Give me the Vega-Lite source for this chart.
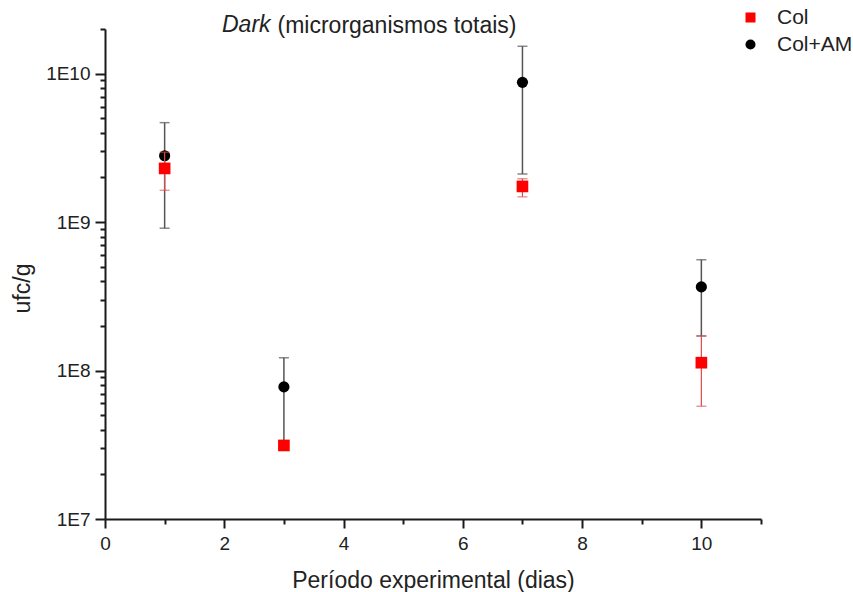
{
  "$schema": "https://vega.github.io/schema/vega-lite/v6.json",
  "width": 656,
  "height": 490,
  "autosize": "none",
  "padding": {"left": 105, "top": 29, "right": 92, "bottom": 73},
  "background": "white",
  "config": {
    "view": {"stroke": null},
    "font": "Liberation Sans",
    "axis": {"labelColor": "#222", "titleColor": "#222", "titleFontWeight": "normal", "grid": false}
  },
  "title": {"text": "Dark", "fontStyle": "italic", "fontWeight": "normal", "fontSize": 23, "color": "#222", "anchor": "start", "frame": "group", "dx": 117, "dy": 52, "baseline": "alphabetic"},
  "data": {"values": [
    {"day": 1, "series": "Col", "value": 2.3e9, "lo": 1.64e9, "hi": 2.96e9},
    {"day": 3, "series": "Col", "value": 3.13e7, "lo": 2.95e7, "hi": 3.3e7},
    {"day": 7, "series": "Col", "value": 1.74e9, "lo": 1.48e9, "hi": 1.96e9},
    {"day": 10, "series": "Col", "value": 1.13e8, "lo": 5.75e7, "hi": 1.71e8},
    {"day": 1, "series": "Col+AM", "value": 2.8e9, "lo": 9.1e8, "hi": 4.68e9},
    {"day": 3, "series": "Col+AM", "value": 7.76e7, "lo": 3.3e7, "hi": 1.22e8},
    {"day": 7, "series": "Col+AM", "value": 8.74e9, "lo": 2.11e9, "hi": 1.53e10},
    {"day": 10, "series": "Col+AM", "value": 3.66e8, "lo": 1.71e8, "hi": 5.58e8}
  ]},
  "resolve": {"axis": {"x": "independent"}},
  "layer": [
    {
      "transform": [{"filter": "datum.series == 'Col+AM'"}],
      "mark": {"type": "rule", "color": "#555555", "strokeWidth": 1.5},
      "encoding": {
        "x": {"field": "day", "type": "quantitative", "scale": {"domain": [0, 11], "nice": false, "zero": false},
          "axis": {"orient": "bottom", "values": [0,1,2,3,4,5,6,7,8,9,10,11],
            "labelExpr": "(datum.value % 2 == 0 && datum.value < 11) ? datum.label : ''",
            "tickSize": {"condition": {"test": "datum.value % 2 == 0 && datum.value < 11", "value": 9}, "value": 5},
            "labelFontSize": 19, "labelPadding": 6, "labelFlush": false, "labelOverlap": false,
            "domainColor": "#1a1a1a", "domainWidth": 2, "tickColor": "#1a1a1a", "tickWidth": 2,
            "title": "Período experimental (dias)", "titleFontSize": 23, "titleX": 328, "titleY": 68, "titleBaseline": "alphabetic", "titleAlign": "center"}},
        "y": {"field": "lo", "type": "quantitative", "scale": {"type": "log", "domain": [1e7, 2e10], "nice": false},
          "axis": {"values": [1e7,2e7,3e7,4e7,5e7,6e7,7e7,8e7,9e7,1e8,2e8,3e8,4e8,5e8,6e8,7e8,8e8,9e8,1e9,2e9,3e9,4e9,5e9,6e9,7e9,8e9,9e9,1e10,2e10],
            "labelExpr": "abs(log(datum.value)/LN10 - round(log(datum.value)/LN10)) < 0.000001 ? '1E' + round(log(datum.value)/LN10) : ''",
            "tickSize": {"condition": {"test": "abs(log(datum.value)/LN10 - round(log(datum.value)/LN10)) < 0.000001", "value": 10}, "value": 5},
            "labelFontSize": 19, "labelPadding": 5, "labelFlush": false, "labelOverlap": false,
            "domainColor": "#1a1a1a", "domainWidth": 2, "tickColor": "#1a1a1a", "tickWidth": 2,
            "title": "ufc/g", "titleFontSize": 23, "titleX": -76, "titleY": 259, "titleBaseline": "alphabetic", "titleAlign": "center", "titleAngle": -90}},
        "y2": {"field": "hi"}
      }
    },
    {
      "transform": [{"filter": "datum.series == 'Col+AM'"}],
      "mark": {"type": "tick", "orient": "horizontal", "color": "#555555", "size": 10, "thickness": 1.5},
      "encoding": {
        "x": {"field": "day", "type": "quantitative", "scale": {"domain": [0, 11], "nice": false, "zero": false}, "axis": null},
        "y": {"field": "hi", "type": "quantitative", "scale": {"type": "log", "domain": [1e7, 2e10], "nice": false}}
      }
    },
    {
      "transform": [{"filter": "datum.series == 'Col+AM'"}],
      "mark": {"type": "tick", "orient": "horizontal", "color": "#555555", "size": 10, "thickness": 1.5},
      "encoding": {
        "x": {"field": "day", "type": "quantitative", "scale": {"domain": [0, 11], "nice": false, "zero": false}, "axis": null},
        "y": {"field": "lo", "type": "quantitative", "scale": {"type": "log", "domain": [1e7, 2e10], "nice": false}}
      }
    },
    {
      "transform": [{"filter": "datum.series == 'Col+AM'"}],
      "mark": {"type": "point", "filled": true, "size": 125, "opacity": 1},
      "encoding": {
        "x": {"field": "day", "type": "quantitative", "scale": {"domain": [0, 11], "nice": false, "zero": false},
          "axis": {"orient": "top", "domain": false, "ticks": false, "labels": false, "grid": false,
            "title": "(microrganismos totais)", "titleFontSize": 23, "titleX": 291.5, "titleY": 3, "titleBaseline": "alphabetic", "titleAlign": "center", "titleAngle": 0}},
        "y": {"field": "value", "type": "quantitative", "scale": {"type": "log", "domain": [1e7, 2e10], "nice": false}},
        "color": {"field": "series", "type": "nominal", "scale": {"domain": ["Col", "Col+AM"], "range": ["#ff0000", "#000000"]},
          "legend": {"orient": "none", "legendX": 635, "legendY": -22, "title": null, "symbolSize": 100, "labelFontSize": 21, "labelColor": "#222", "rowPadding": 5, "labelOffset": 16, "padding": 0}},
        "shape": {"field": "series", "type": "nominal", "scale": {"domain": ["Col", "Col+AM"], "range": ["square", "circle"]},
          "legend": {"orient": "none", "legendX": 635, "legendY": -22, "title": null, "symbolSize": 100, "labelFontSize": 21, "labelColor": "#222", "rowPadding": 5, "labelOffset": 16, "padding": 0}}
      }
    },
    {
      "transform": [{"filter": "datum.series == 'Col'"}],
      "mark": {"type": "rule", "color": "#e04848", "strokeWidth": 1.2},
      "encoding": {
        "x": {"field": "day", "type": "quantitative", "scale": {"domain": [0, 11], "nice": false, "zero": false}, "axis": null},
        "y": {"field": "lo", "type": "quantitative", "scale": {"type": "log", "domain": [1e7, 2e10], "nice": false}},
        "y2": {"field": "hi"}
      }
    },
    {
      "transform": [{"filter": "datum.series == 'Col'"}],
      "mark": {"type": "tick", "orient": "horizontal", "color": "#e04848", "size": 10, "thickness": 1.2},
      "encoding": {
        "x": {"field": "day", "type": "quantitative", "scale": {"domain": [0, 11], "nice": false, "zero": false}, "axis": null},
        "y": {"field": "hi", "type": "quantitative", "scale": {"type": "log", "domain": [1e7, 2e10], "nice": false}}
      }
    },
    {
      "transform": [{"filter": "datum.series == 'Col'"}],
      "mark": {"type": "tick", "orient": "horizontal", "color": "#e04848", "size": 10, "thickness": 1.2},
      "encoding": {
        "x": {"field": "day", "type": "quantitative", "scale": {"domain": [0, 11], "nice": false, "zero": false}, "axis": null},
        "y": {"field": "lo", "type": "quantitative", "scale": {"type": "log", "domain": [1e7, 2e10], "nice": false}}
      }
    },
    {
      "transform": [{"filter": "datum.series == 'Col'"}],
      "mark": {"type": "point", "filled": true, "size": 136, "opacity": 1},
      "encoding": {
        "x": {"field": "day", "type": "quantitative", "scale": {"domain": [0, 11], "nice": false, "zero": false}, "axis": null},
        "y": {"field": "value", "type": "quantitative", "scale": {"type": "log", "domain": [1e7, 2e10], "nice": false}},
        "color": {"field": "series", "type": "nominal", "scale": {"domain": ["Col", "Col+AM"], "range": ["#ff0000", "#000000"]},
          "legend": {"orient": "none", "legendX": 635, "legendY": -22, "title": null, "symbolSize": 100, "labelFontSize": 21, "labelColor": "#222", "rowPadding": 5, "labelOffset": 16, "padding": 0}},
        "shape": {"field": "series", "type": "nominal", "scale": {"domain": ["Col", "Col+AM"], "range": ["square", "circle"]},
          "legend": {"orient": "none", "legendX": 635, "legendY": -22, "title": null, "symbolSize": 100, "labelFontSize": 21, "labelColor": "#222", "rowPadding": 5, "labelOffset": 16, "padding": 0}}
      }
    }
  ]
}
